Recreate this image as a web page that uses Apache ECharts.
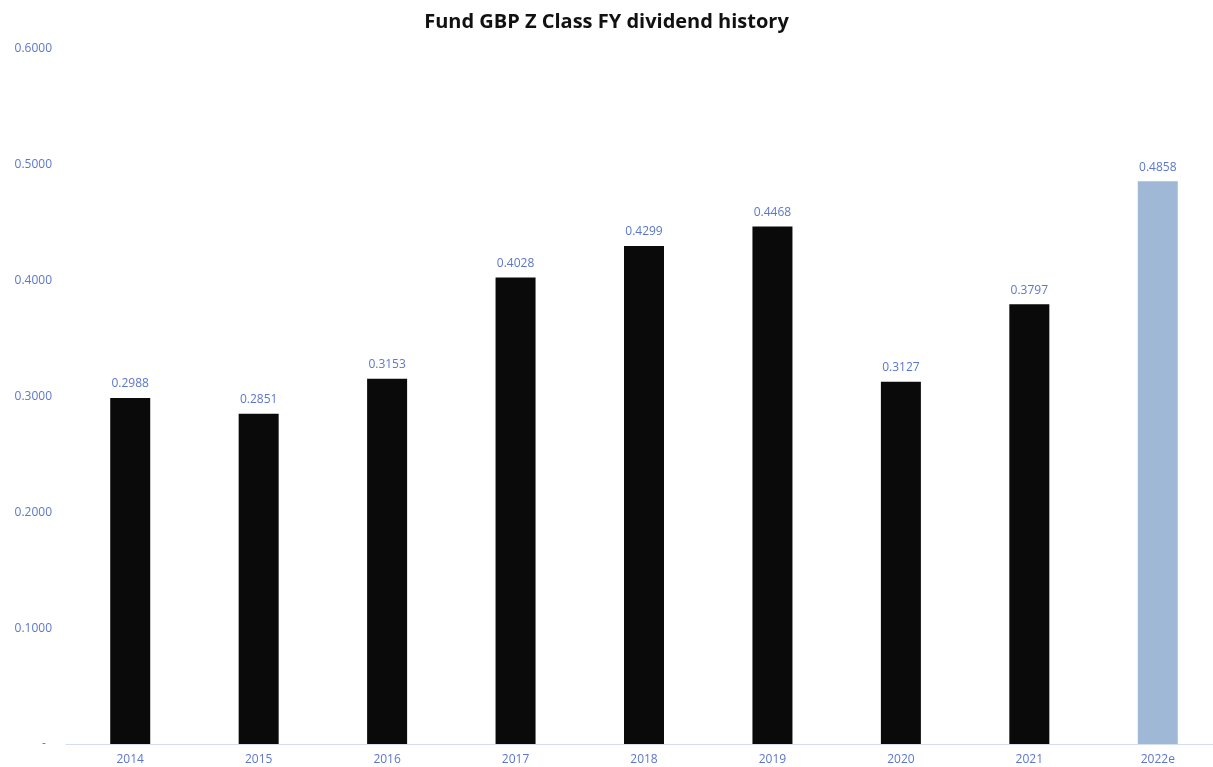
<!DOCTYPE html>
<html><head><meta charset="utf-8">
<script src="https://cdn.jsdelivr.net/npm/echarts@6/dist/echarts.min.js"></script>
<style>html,body{margin:0;padding:0;background:#fff}#c{width:1213px;height:767px}</style>
</head><body><div id="c"></div>
<script>
const categories = ['2014','2015','2016','2017','2018','2019','2020','2021','2022e'];
const values = [0.2988,0.2851,0.3153,0.4028,0.4299,0.4468,0.3127,0.3797,0.4858];
const estimateFlags = [false,false,false,false,false,false,false,false,true];
const titleText = 'Fund GBP Z Class FY dividend history';
const labelColor = '#5b77cc';
const font = 'Open Sans';
const chart = echarts.init(document.getElementById('c'));
chart.setOption({
  animation:false,
  title:{text:titleText,left:'center',top:7,textStyle:{fontFamily:font,fontWeight:'bold',fontSize:20,color:'#111'}},
  grid:{left:66,width:1156,top:49,bottom:23,containLabel:false,outerBoundsMode:'none'},
  xAxis:{type:'category',data:categories,axisLine:{lineStyle:{color:'#d3ddf0'}},axisTick:{show:false},
    axisLabel:{color:labelColor,fontFamily:font,fontSize:12,margin:10}},
  yAxis:{type:'value',min:0,max:0.6,interval:0.1,splitLine:{show:false},axisLine:{show:false},axisTick:{show:false},
    axisLabel:{color:labelColor,fontFamily:font,fontSize:12,margin:14,align:'right',
      formatter:v=>v===0?'-  ':v.toFixed(4)}},
  series:[{type:'bar',barWidth:40,
    data:values.map((v,i)=>({value:v,itemStyle:{color:estimateFlags[i]?'#9fb8d6':'#0a0a0a'}})),
    label:{show:true,position:'top',distance:8,color:labelColor,fontFamily:font,fontSize:12,formatter:p=>p.value.toFixed(4)}}]
});
</script></body></html>
